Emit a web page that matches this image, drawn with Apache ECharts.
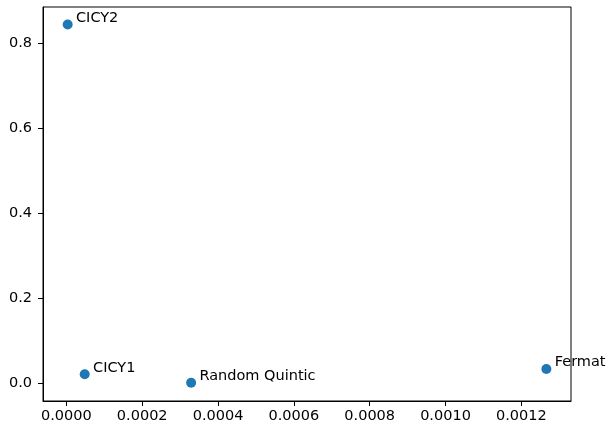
<!DOCTYPE html>
<html>
<head>
<meta charset="utf-8">
<script src="https://cdn.jsdelivr.net/npm/echarts@6/dist/echarts.min.js"></script>
<style>
  html, body { margin: 0; padding: 0; background: #fff; }
  #chart { width: 607px; height: 424px; }
</style>
</head>
<body>
<div id="chart"></div>
<script>
// point names and values
const names = ['CICY2', 'CICY1', 'Random Quintic', 'Fermat'];
const xValues = [0.0000034, 0.0000483, 0.000329, 0.001266];
const yValues = [0.845, 0.0212, 0.0015, 0.0337];

// tick values
const xTicks = [0, 0.0002, 0.0004, 0.0006, 0.0008, 0.0010, 0.0012];
const yTicks = [0, 0.2, 0.4, 0.6, 0.8];

const chart = echarts.init(document.getElementById('chart'));
const font = 'DejaVu Sans';
const fs = 14.5;

chart.setOption({
  animation: false,
  grid: { left: 43, right: 36, top: 7, bottom: 23, show: true, borderColor: '#000', borderWidth: 1, backgroundColor: 'transparent' },
  xAxis: {
    type: 'value', min: -0.0000617, max: 0.001331,
    splitLine: { show: false },
    axisLine: { onZero: false, lineStyle: { color: '#000', width: 1 } },
    axisTick: { customValues: xTicks, length: 5, lineStyle: { color: '#000' } },
    axisLabel: { customValues: xTicks, margin: 8, color: '#000', fontFamily: font, fontSize: fs,
      formatter: v => v.toFixed(4) }
  },
  yAxis: {
    type: 'value', min: -0.0416, max: 0.886,
    splitLine: { show: false },
    axisLine: { show: true, onZero: false, lineStyle: { color: '#000', width: 1 } },
    axisTick: { show: true, customValues: yTicks, length: 5, lineStyle: { color: '#000' } },
    axisLabel: { customValues: yTicks, margin: 11, color: '#000', fontFamily: font, fontSize: fs,
      formatter: v => v.toFixed(1) }
  },
  series: [{
    type: 'scatter',
    symbolSize: 10,
    itemStyle: { color: '#1f77b4', opacity: 1 },
    data: names.map((n, i) => ({ name: n, value: [xValues[i], yValues[i]] })),
    label: {
      show: true, formatter: '{b}', position: [13.3, -1.3],
      align: 'left', verticalAlign: 'middle',
      color: '#000', fontFamily: font, fontSize: fs
    },
    labelLayout: { hideOverlap: false },
    clip: false
  }]
});
</script>
</body>
</html>
